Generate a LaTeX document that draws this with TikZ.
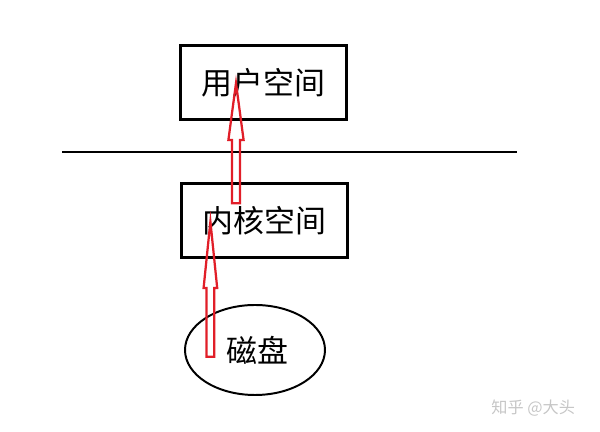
\documentclass[tikz,border=0pt]{standalone}
\usepackage{fontspec}
\setmainfont{Noto Sans CJK SC}
\usepackage{tikz}
\usetikzlibrary{calc,shapes.geometric}
\definecolor{arrowred}{RGB}{225,30,40}

\begin{document}
\begin{tikzpicture}[font=\fontsize{22}{26}\selectfont]

\tikzstyle{space} = [draw, line width=2.1pt, rectangle, minimum width=4.15cm, minimum height=1.85cm, inner sep=0pt]
\tikzstyle{disk} = [draw, line width=1.4pt, ellipse, minimum width=3.5cm, minimum height=2.25cm, inner sep=0pt]
\tikzstyle{hollow} = [draw=arrowred, line width=1.6pt, line join=miter]

\useasboundingbox (0,0) rectangle (15,10.8);

% Boxes and disk
\node[space] (user) at (6.59, 8.74) {用户空间};
\node[space] (kernel) at (6.61, 5.29) {内核空间};
\node[disk] (disk) at (6.375, 2.05) {\hspace*{0.1cm}磁盘};

% Separating line
\coordinate (sepL) at (1.55, 7.0);
\coordinate (sepR) at (12.925, 7.0);
\draw[line width=2pt] (sepL) -- (sepR);

% Kernel -> user
\coordinate (a1s) at (5.9, 5.72);
\coordinate (a1t) at (5.9, 8.72);
\draw[hollow] ($(a1s)+(-0.1,0)$) -- ($(a1s)+(0.1,0)$) -- ($(a1t)+(0.1,-1.42)$) -- ($(a1t)+(0.19,-1.42)$) -- (a1t)
  -- ($(a1t)+(-0.19,-1.42)$) -- ($(a1t)+(-0.1,-1.42)$) -- cycle;

% Disk -> kernel
\coordinate (a2s) at (5.26, 1.88);
\coordinate (a2t) at (5.26, 5.26);
\draw[hollow] ($(a2s)+(-0.095,0)$) -- ($(a2s)+(0.095,0)$) -- ($(a2t)+(0.095,-1.66)$) -- ($(a2t)+(0.17,-1.66)$) -- (a2t)
  -- ($(a2t)+(-0.17,-1.66)$) -- ($(a2t)+(-0.095,-1.66)$) -- cycle;

% Watermark
\node[gray!45, font=\fontsize{11.5}{14}\selectfont] (mark) at (13.33, 0.6) {知乎 @大头};

\end{tikzpicture}
\end{document}
